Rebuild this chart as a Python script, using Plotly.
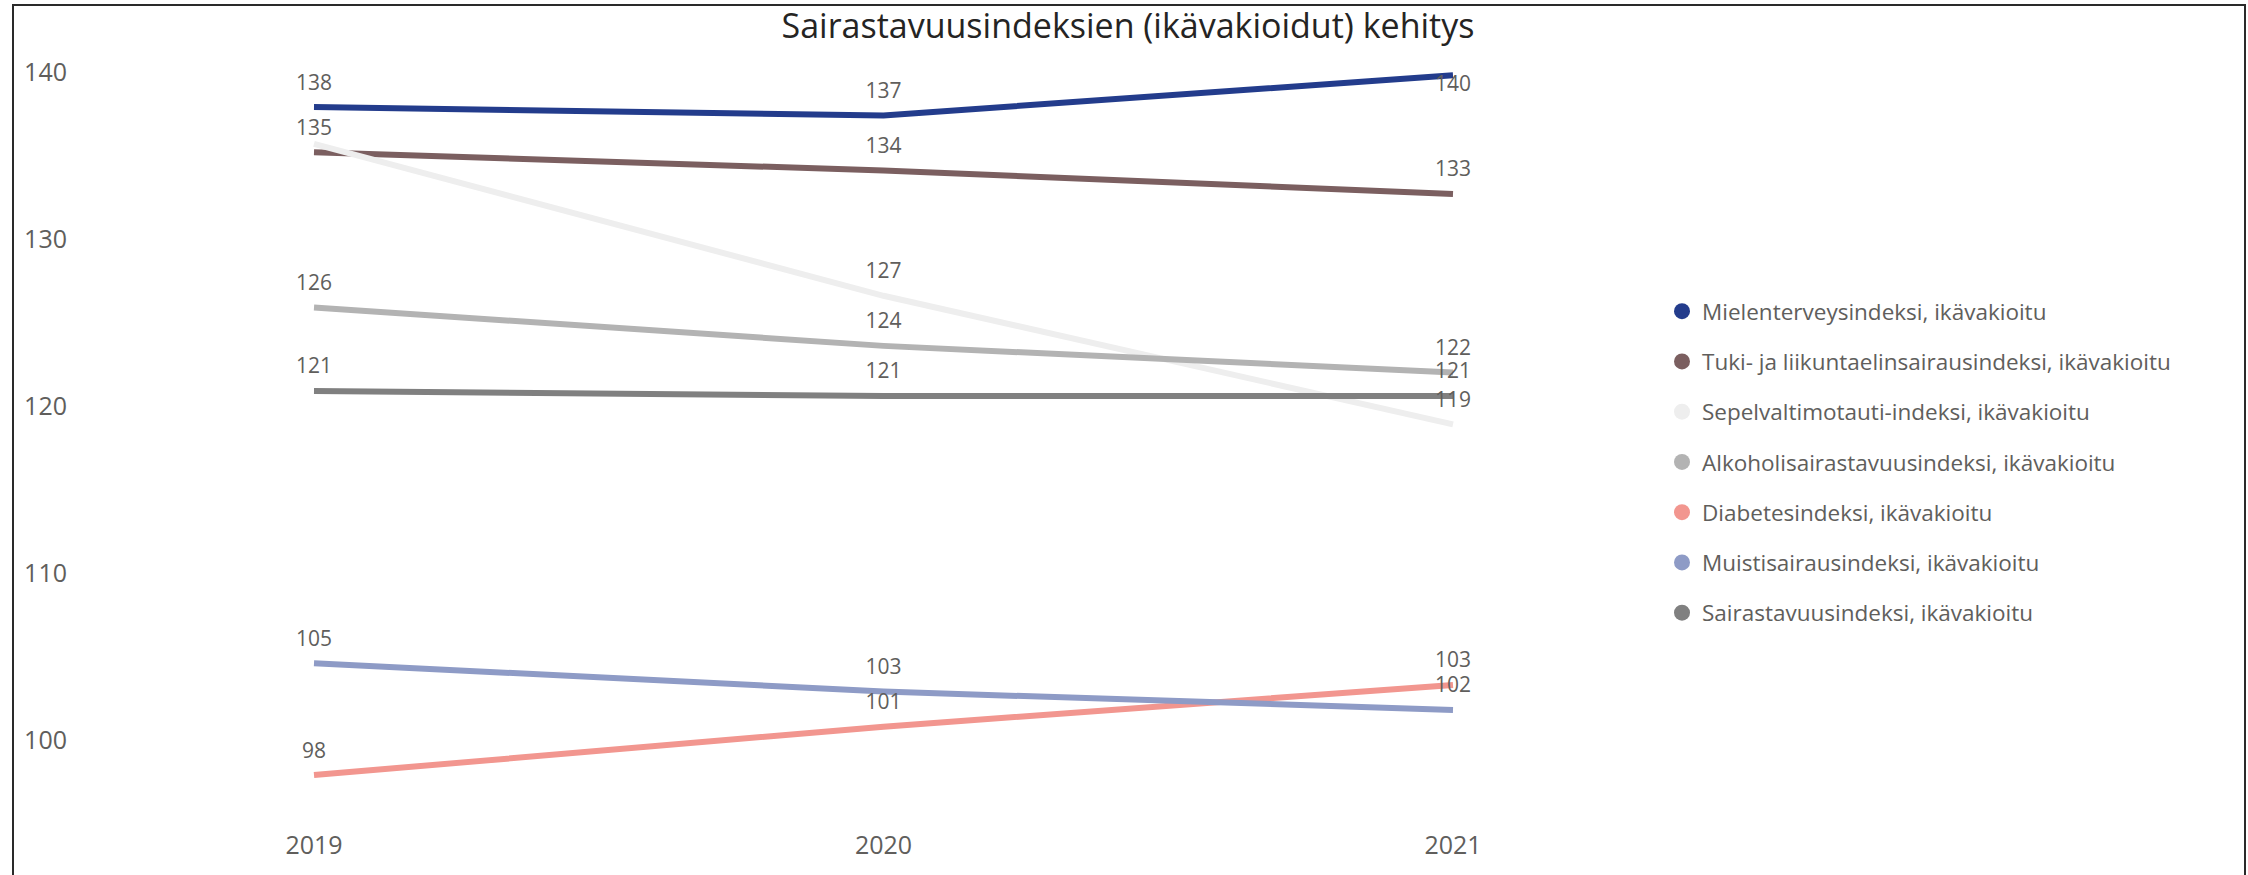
import plotly.graph_objects as go

# Vuodet ja ikävakioidut indeksit (luettu kuvasta)
VUODET = ["2019", "2020", "2021"]

MIELENTERVEYS = [137.9, 137.4, 139.8]
TUKI_LIIKUNTA = [135.2, 134.1, 132.7]
SEPELVALTIMO = [135.7, 126.6, 118.9]
ALKOHOLI = [125.9, 123.6, 122.0]
DIABETES = [97.9, 100.8, 103.3]
MUISTI = [104.6, 102.9, 101.8]
SAIRASTAVUUS = [120.9, 120.6, 120.6]

NIMET = [
    "Mielenterveysindeksi, ikävakioitu",
    "Tuki- ja liikuntaelinsairausindeksi, ikävakioitu",
    "Sepelvaltimotauti-indeksi, ikävakioitu",
    "Alkoholisairastavuusindeksi, ikävakioitu",
    "Diabetesindeksi, ikävakioitu",
    "Muistisairausindeksi, ikävakioitu",
    "Sairastavuusindeksi, ikävakioitu",
]
SARJAT = [MIELENTERVEYS, TUKI_LIIKUNTA, SEPELVALTIMO, ALKOHOLI,
          DIABETES, MUISTI, SAIRASTAVUUS]
VARIT = ["#233C8C", "#7B5F60", "#EEEEEE", "#B3B3B3",
         "#F2968F", "#8E9BC6", "#808080"]

# Power BI piilottaa päällekkäisiä arvoja; 140 jää viivan alle
PIILOTETUT = {(2, 0)}
ALAPUOLELLE = {(0, 2)}

TEKSTI = "#605E5C"
FONTTI = "Open Sans, sans-serif"

fig = go.Figure()

for nimi, arvot, vari in zip(NIMET, SARJAT, VARIT):
    fig.add_trace(go.Scatter(
        x=VUODET, y=arvot,
        mode="lines",
        name=nimi,
        line=dict(color=vari, width=6),
        showlegend=False,
        hovertemplate=f"<b>{nimi}</b><br>%{{x}}: %{{y:.1f}}<extra></extra>",
    ))

# arvotekstit viivojen päälle
for i, (nimi, arvot) in enumerate(zip(NIMET, SARJAT)):
    tekstit = ["" if (i, j) in PIILOTETUT else f"{round(v)}"
               for j, v in enumerate(arvot)]
    paikat = ["bottom center" if (i, j) in ALAPUOLELLE else "top center"
              for j in range(len(arvot))]
    koot = [0 if (i, j) in ALAPUOLELLE else 18 for j in range(len(arvot))]
    fig.add_trace(go.Scatter(
        x=VUODET, y=arvot,
        mode="markers+text",
        text=tekstit,
        textposition=paikat,
        textfont=dict(family=FONTTI, size=21, color=TEKSTI),
        marker=dict(size=koot, opacity=0),
        showlegend=False,
        hoverinfo="skip",
    ))

# selitteen pallot
for nimi, vari in zip(NIMET, VARIT):
    fig.add_trace(go.Scatter(
        x=[None], y=[None],
        mode="markers",
        name=nimi,
        legendgroup=nimi,
        marker=dict(color=vari, size=16, symbol="circle"),
    ))

# piirtoalue pikseleinä
L, R, T, B = 68, 1640, 60, 819
W, H = R - L, B - T
X0, DX = 314, 569.5      # 2019 keskikohta ja vuosiväli
Y140, DY = 72, 16.7      # 140:n korkeus ja px / yksikkö


def px(x):
    return (x - L) / W


def py(y):
    return (B - y) / H


# kehys koko kuvan ympärillä
fig.add_shape(
    type="rect", xref="paper", yref="paper",
    x0=px(13), x1=px(2245), y0=py(5), y1=py(900),
    line=dict(color="#2a2a2a", width=2),
)

fig.update_layout(
    title=dict(
        text="Sairastavuusindeksien (ikävakioidut) kehitys",
        xref="container", x=1128 / 2248, xanchor="center",
        yref="container", y=1 - 26 / 875, yanchor="middle",
        font=dict(family=FONTTI, size=34, color="#252423"),
    ),
    xaxis=dict(
        type="category",
        range=[-(X0 - L) / DX, (R - X0) / DX],
        showgrid=False, zeroline=False, showline=False,
        automargin=False,
        tickfont=dict(family=FONTTI, size=25, color=TEKSTI),
        ticks="outside", ticklen=4, tickcolor="rgba(0,0,0,0)",
    ),
    yaxis=dict(
        range=[140 - (B - Y140) / DY, 140 + (Y140 - T) / DY],
        tickvals=[100, 110, 120, 130, 140],
        showgrid=False, zeroline=False, showline=False,
        automargin=False,
        tickfont=dict(family=FONTTI, size=25, color=TEKSTI),
    ),
    legend=dict(
        x=px(1662), xanchor="left",
        y=py(462), yanchor="middle",
        font=dict(family=FONTTI, size=22.5, color=TEKSTI),
        tracegroupgap=18,
        bgcolor="rgba(0,0,0,0)",
    ),
    plot_bgcolor="white",
    paper_bgcolor="white",
    width=2248, height=875,
    margin=dict(l=L, r=2248 - R, t=T, b=875 - B),
)

fig.write_html(
    "out.html",
    config={"displayModeBar": False},
    post_script="document.body.style.margin='0';",
)
